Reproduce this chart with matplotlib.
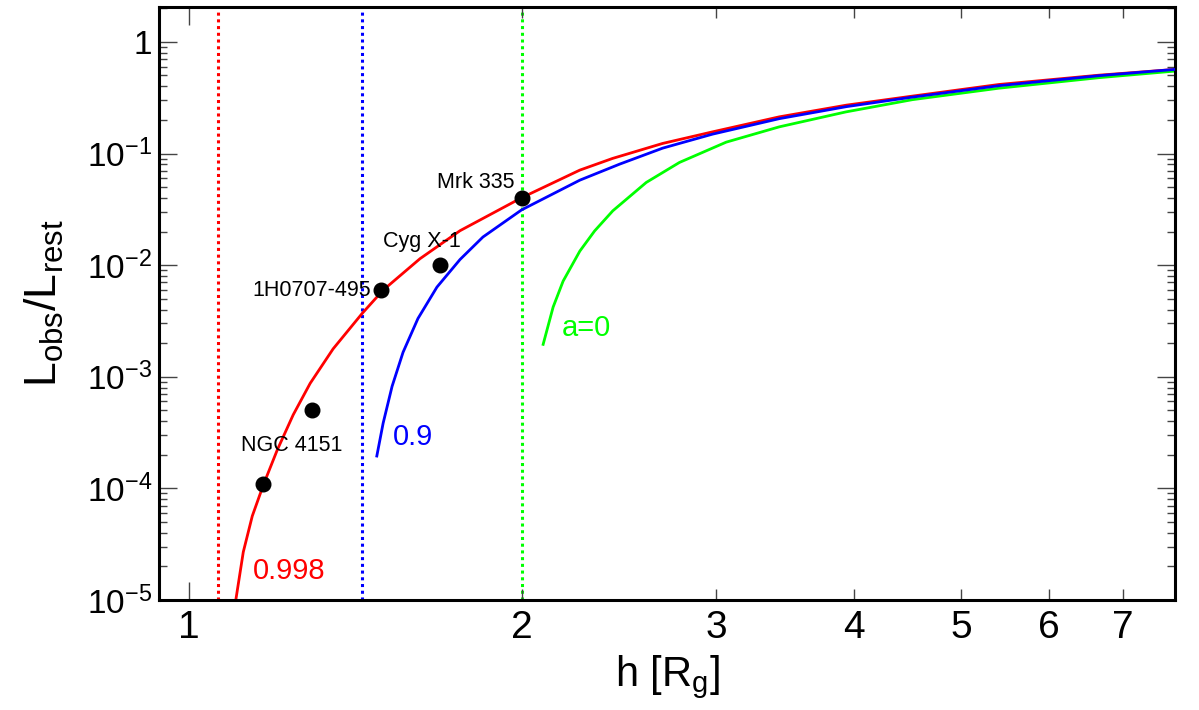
import numpy as np
import matplotlib
matplotlib.use('Agg')
import matplotlib.pyplot as plt
from matplotlib.ticker import FixedLocator, FuncFormatter, NullFormatter

plt.rcParams['font.family'] = ['Liberation Sans', 'DejaVu Sans']
plt.rcParams['mathtext.fontset'] = 'custom'
plt.rcParams['mathtext.rm'] = 'Liberation Sans'
plt.rcParams['mathtext.it'] = 'Liberation Sans:italic'

# curves: height h [Rg] vs L_obs/L_rest
h_998 = [1.1031, 1.1204, 1.1416, 1.1688, 1.2025, 1.2431, 1.2878, 1.3509, 1.4350, 1.4992, 1.6187,
         1.7596, 2.0, 2.2582, 2.4172, 2.6834, 2.9772, 3.4209, 3.9336, 4.5105, 5.4058, 6.6552, 7.7804]
L_998 = [1.0e-5, 2.69e-5, 5.65e-5, 1.087e-4, 2.205e-4, 4.555e-4, 8.72e-4, 1.777e-3, 3.687e-3, 5.97e-3,
         1.141e-2, 2.034e-2, 4.01e-2, 7.10e-2, 9.03e-2, 0.1231, 0.1563, 0.2130, 0.2711, 0.3264, 0.4154,
         0.5031, 0.5659]

h_09 = [1.4796, 1.4992, 1.5274, 1.5627, 1.6120, 1.6770, 1.7596, 1.8455, 2.0, 2.2582, 2.4533, 2.6834,
        2.9772, 3.4209, 3.9336, 4.5105, 5.4058, 6.6552, 7.7804]
L_09 = [1.948e-4, 3.833e-4, 8.20e-4, 1.656e-3, 3.325e-3, 6.355e-3, 1.123e-2, 1.785e-2, 3.122e-2, 5.77e-2,
        8.03e-2, 0.1117, 0.1491, 0.2052, 0.2629, 0.3197, 0.4052, 0.4979, 0.5659]

h_0 = [2.0921, 2.1361, 2.1810, 2.2582, 2.3289, 2.4187, 2.5933, 2.7790, 3.0631, 3.4209, 3.9311, 4.5133,
       5.4058, 6.6552, 7.7804]
L_0 = [1.950e-3, 4.21e-3, 7.19e-3, 1.335e-2, 2.025e-2, 3.065e-2, 5.505e-2, 8.316e-2, 0.1264, 0.1733,
       0.2360, 0.3036, 0.3848, 0.4779, 0.5466]

# event horizons
r_horizon = [1.063, 1.436, 2.0]

# sources
src_names = ['NGC 4151', '', '1H0707-495', 'Cyg X-1', 'Mrk 335']
src_h = [1.168, 1.293, 1.493, 1.689, 2.0]
src_L = [1.1e-4, 5.0e-4, 6.0e-3, 1.0e-2, 4.0e-2]

RED, BLUE, GREEN = '#ff0000', '#0000ff', '#00ff00'

fig = plt.figure(figsize=(11.99, 7.10), dpi=100)
ax = fig.add_axes([0.1326, 0.155, 0.8474, 0.835])

for x, c in zip(r_horizon, [RED, BLUE, GREEN]):
    ax.axvline(x, color=c, lw=2.2, ls=(0, (1, 1.2)), zorder=1)

ax.plot(h_998, L_998, color=RED, lw=2.0, zorder=2)
ax.plot(h_09, L_09, color=BLUE, lw=2.0, zorder=3)
ax.plot(h_0, L_0, color=GREEN, lw=2.0, zorder=2)

ax.plot(src_h, src_L, 'o', color='black', ms=10.5, zorder=5)

ax.text(1.238, 2.44e-4, 'NGC 4151', fontsize=15.5, ha='center', va='center')
ax.text(1.462, 5.97e-3, '1H0707-495', fontsize=15.5, ha='right', va='center')
ax.text(1.499, 1.62e-2, 'Cyg X-1', fontsize=15.5, ha='left', va='center')
ax.text(1.972, 5.5e-2, 'Mrk 335', fontsize=15.5, ha='right', va='center')

ax.text(1.142, 1.83e-5, '0.998', fontsize=21, color=RED, ha='left', va='center')
ax.text(1.53, 2.88e-4, '0.9', fontsize=21, color=BLUE, ha='left', va='center')
ax.text(2.175, 2.73e-3, 'a=0', fontsize=21, color=GREEN, ha='left', va='center')

ax.set_xscale('log')
ax.set_yscale('log')
ax.set_xlim(0.94, 7.8)
ax.set_ylim(1e-5, 2.05)

ax.xaxis.set_major_locator(FixedLocator([1]))
ax.xaxis.set_minor_locator(FixedLocator([2, 3, 4, 5, 6, 7]))
ax.xaxis.set_major_formatter(FuncFormatter(lambda v, p: '%d' % round(v)))
ax.xaxis.set_minor_formatter(FuncFormatter(lambda v, p: '%d' % round(v)))

def yfmt(v, p):
    e = int(round(np.log10(v)))
    if e == 0:
        return '1'
    return r'$\mathregular{10^{%d}}$' % e

ax.yaxis.set_major_locator(FixedLocator([1e-5, 1e-4, 1e-3, 1e-2, 1e-1, 1]))
ax.yaxis.set_major_formatter(FuncFormatter(yfmt))
ax.yaxis.set_minor_formatter(NullFormatter())

ax.tick_params(axis='both', which='both', direction='in', top=True, right=True,
               color='#444444', width=1.0)
ax.tick_params(axis='x', which='major', length=13, labelsize=28, pad=7)
ax.tick_params(axis='x', which='minor', length=8, labelsize=28, pad=7)
ax.tick_params(axis='y', which='major', length=13, labelsize=24, pad=5)
ax.tick_params(axis='y', which='minor', length=6)

for s in ax.spines.values():
    s.set_linewidth(2.2)

ax.set_xlabel(r'h [$\mathregular{R_g}$]', fontsize=30)
ax.set_ylabel(r'$\mathregular{L_{obs}/L_{rest}}$', fontsize=32)
ax.xaxis.set_label_coords(0.5, -0.09)
ax.yaxis.set_label_coords(-0.092, 0.5)

fig.savefig('out.png', dpi=100)
